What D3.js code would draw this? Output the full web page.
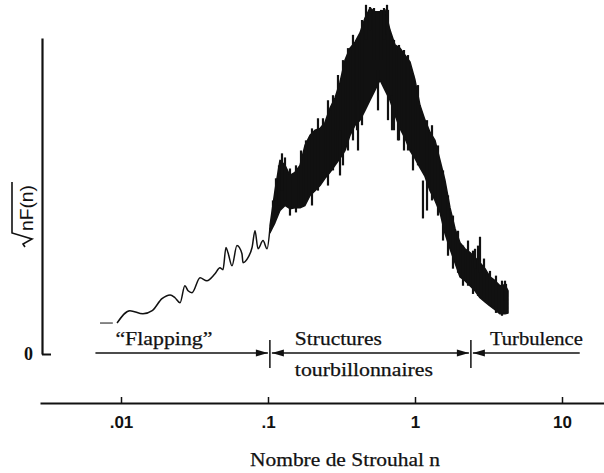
<!DOCTYPE html>
<html>
<head>
<meta charset="utf-8">
<script src="https://cdn.jsdelivr.net/npm/d3@7"></script>
<style>
  body { margin: 0; background: #fff; }
  svg { display: block; }
</style>
</head>
<body>
<div id="chart"></div>
<script>
// x axis ticks
const tickValues = [0.01, 0.1, 1, 10];
const tickLabels = [".01", ".1", "1", "10"];

// low frequency part of the spectrum (thin trace)
const lowN = [0.0094, 0.0115, 0.0141, 0.0163, 0.019, 0.0216, 0.0233, 0.0252, 0.0272, 0.0286,
  0.0304, 0.0345, 0.0384, 0.0436, 0.0471, 0.0494, 0.0518, 0.0534, 0.0569, 0.0615,
  0.0665, 0.0676, 0.0731, 0.0779, 0.0816, 0.0855, 0.0925, 0.0985, 0.1032];
const lowAmp = [9.8, 13.7, 12.7, 13.7, 17.5, 18.7, 17.8, 16.2, 21.6, 20.0,
  19.4, 24.1, 23.2, 25.4, 27.3, 26.7, 33.7, 32.1, 27.9, 34.3,
  31.7, 28.9, 30.5, 33.7, 39.0, 33.3, 35.9, 33.3, 40.0];

// short dash left of the trace
const dashN = [0.0072, 0.0088];
const dashAmp = [9.8, 9.8];

// noisy part of the spectrum: upper and lower envelope
const bandN = [0.1032, 0.1116, 0.1206, 0.1305, 0.1411, 0.1527, 0.1651, 0.1785, 0.1931, 0.2088,
  0.2258, 0.2442, 0.2641, 0.2856, 0.3089, 0.3341, 0.3613, 0.3907, 0.4225, 0.457,
  0.4942, 0.5345, 0.578, 0.6251, 0.6761, 0.7312, 0.7907, 0.8551, 0.9248, 1.0,
  1.081, 1.17, 1.265, 1.368, 1.479, 1.6, 1.73, 1.871, 2.024, 2.188,
  2.367, 2.56, 2.768, 2.994, 3.237, 3.501, 3.786, 4.095, 4.294];
const bandTop = [40.6, 51.7, 61.3, 59.7, 56.5, 57.5, 59.7, 66.0, 69.2, 70.8,
  71.4, 73.3, 77.8, 81.0, 86.0, 93.0, 96.8, 98.7, 101.6, 106.3,
  109.5, 108.3, 108.3, 108.9, 102.5, 97.8, 96.8, 94.6, 92.4, 86.7,
  78.7, 74.0, 70.2, 67.6, 61.3, 54.9, 46.3, 39.7, 35.2, 33.3,
  32.1, 30.5, 28.9, 27.0, 24.4, 23.2, 21.6, 21.9, 20.0];
const bandBottom = [38.4, 41.6, 45.4, 47.0, 46.0, 46.3, 46.3, 47.0, 50.2, 51.7,
  53.3, 55.6, 57.5, 59.7, 61.9, 64.4, 69.2, 72.4, 74.0, 77.1,
  80.3, 83.5, 86.7, 83.5, 80.3, 75.6, 71.4, 68.3, 64.4, 61.9,
  59.0, 56.2, 51.7, 48.6, 44.8, 38.1, 33.3, 28.9, 24.4, 23.2,
  21.6, 20.0, 17.8, 16.5, 15.2, 14.0, 12.7, 12.7, 13.0];

// vertical noise strands (frequency, top, bottom)
const spikeN = [0.1081, 0.1133, 0.1188, 0.1245, 0.1305, 0.1411, 0.155, 0.1677, 0.1813, 0.1992,
  0.2188, 0.2366, 0.2559, 0.2768, 0.2993, 0.3089, 0.3237, 0.3501, 0.3786, 0.4031,
  0.4096, 0.436, 0.4642, 0.4942, 0.5262, 0.5602, 0.5872, 0.6152, 0.6451, 0.6551,
  0.6976, 0.7197, 0.766, 0.7783, 0.8417, 0.896, 0.9691, 1.048, 1.133, 1.207,
  1.305, 1.434, 1.551, 1.677, 1.813, 1.962, 2.121, 2.294, 2.481, 2.56,
  2.683, 2.768, 2.947, 3.237, 3.556, 3.906, 4.095, 4.159];
const spikeTop = [48.6, 55.6, 59.7, 63.5, 62.2, 58.7, 59.7, 64.4, 67.6, 71.4,
  74.6, 74.6, 80.3, 81.9, 88.3, 70.8, 93.0, 96.8, 101.0, 99.4,
  80.3, 105.7, 110.5, 109.8, 109.5, 89.8, 108.9, 109.5, 110.5, 108.9,
  81.9, 99.4, 77.1, 97.8, 96.2, 94.6, 88.3, 85.1, 54.9, 74.0,
  72.4, 66.0, 58.1, 50.2, 43.8, 39.0, 34.3, 35.9, 32.7, 33.3,
  34.3, 37.1, 30.2, 26.3, 24.8, 23.2, 23.2, 22.2];
const spikeBottom = [40.6, 48.6, 47.0, 51.7, 48.6, 43.8, 44.8, 47.0, 48.6, 47.0,
  51.7, 57.5, 53.3, 58.1, 61.3, 56.5, 59.7, 64.4, 67.6, 70.8,
  64.4, 72.4, 99.4, 102.5, 93.0, 77.1, 93.0, 99.4, 101.0, 74.0,
  70.8, 70.8, 67.6, 67.6, 64.4, 64.4, 58.1, 59.7, 42.9, 45.4,
  48.6, 43.8, 35.9, 31.1, 27.0, 25.7, 21.6, 21.6, 19.0, 27.0,
  18.4, 25.7, 16.8, 15.2, 13.0, 12.1, 16.8, 13.7];

// regions marked along the zero line
const regionBounds = [0.0067, 0.103, 2.4, 13.2];
const regionLabels = [["\u201CFlapping\u201D"], ["Structures", "tourbillonnaires"], ["Turbulence"]];

const chartWidth = 604;
const chartHeight = 473;
const ink = "#111";
const serif = "'Liberation Serif', 'Times New Roman', serif";
const sans = "'Liberation Sans', Arial, sans-serif";

const svg = d3
  .select("#chart")
  .append("svg")
  .attr("width", chartWidth)
  .attr("height", chartHeight);

// scales
const x = d3.scaleLog().domain([0.01, 10]).range([121, 562]);
const y = d3.scaleLinear().domain([0, 100]).range([354, 38]);
const xAxisScale = x.copy().domain([x.invert(40), x.invert(604)]).range([40, 604]);

// x axis
const xAxis = svg
  .append("g")
  .attr("transform", "translate(0, 403)")
  .call(
    d3.axisBottom(xAxisScale)
      .tickValues(tickValues)
      .tickFormat((d, i) => tickLabels[i])
      .tickSizeInner(-6)
      .tickSizeOuter(0)
      .tickPadding(13)
  );
xAxis.select(".domain").attr("stroke", ink).attr("stroke-width", 2);
xAxis.selectAll(".tick line").attr("stroke", ink).attr("stroke-width", 1.5);
xAxis
  .selectAll(".tick text")
  .attr("fill", ink)
  .attr("font-family", sans)
  .attr("font-size", 17)
  .attr("font-weight", "bold")
  .style("font-size", "17px");

// y axis
const yAxis = svg
  .append("g")
  .attr("transform", "translate(42, 0)")
  .call(
    d3.axisLeft(y)
      .tickValues([0])
      .tickSizeInner(-9)
      .tickSizeOuter(0)
      .tickPadding(9)
  );
yAxis.select(".domain").attr("stroke", ink).attr("stroke-width", 2.2);
yAxis.selectAll(".tick line").attr("stroke", ink).attr("stroke-width", 2);
yAxis
  .selectAll(".tick text")
  .attr("fill", ink)
  .attr("font-family", serif)
  .attr("font-weight", "bold")
  .style("font-size", "18px");

// x axis title
svg
  .append("text")
  .attr("x", 250)
  .attr("y", 466)
  .attr("textLength", 190)
  .attr("lengthAdjust", "spacingAndGlyphs")
  .style("font-family", serif)
  .style("font-size", "19px")
  .attr("fill", ink)
  .attr("stroke", ink)
  .attr("stroke-width", 0.25)
  .text("Nombre de Strouhal n");

// y axis title: sqrt(nF(n)) written upward
const yTitle = svg.append("g").attr("transform", "translate(33, 248) rotate(-90)");
yTitle
  .append("path")
  .attr("d", "M1,-8 L4,-10 L9,-1 L15,-21 L66,-21")
  .attr("fill", "none")
  .attr("stroke", ink)
  .attr("stroke-width", 1.6);
yTitle
  .append("text")
  .attr("x", 17)
  .attr("y", 0)
  .attr("textLength", 46)
  .attr("lengthAdjust", "spacingAndGlyphs")
  .style("font-family", sans)
  .style("font-size", "18px")
  .attr("fill", ink)
  .text("nF(n)");

// spectrum: thin low frequency trace
const lowData = lowN.map((n, i) => ({ n: n, v: lowAmp[i] }));
const dashData = dashN.map((n, i) => ({ n: n, v: dashAmp[i] }));
const line = d3
  .line()
  .x((d) => x(d.n))
  .y((d) => y(d.v));

svg
  .append("path")
  .datum(dashData)
  .attr("d", line)
  .attr("fill", "none")
  .attr("stroke", ink)
  .attr("stroke-width", 1);

svg
  .append("path")
  .datum(lowData)
  .attr("d", line.curve(d3.curveMonotoneX))
  .attr("fill", "none")
  .attr("stroke", ink)
  .attr("stroke-width", 1.5)
  .attr("stroke-linejoin", "round");

// spectrum: noisy band
const bandData = bandN.map((n, i) => ({ n: n, top: bandTop[i], bottom: bandBottom[i] }));
const area = d3
  .area()
  .x((d) => x(d.n))
  .y0((d) => y(d.bottom))
  .y1((d) => y(d.top));

svg
  .append("path")
  .datum(bandData)
  .attr("d", area)
  .attr("fill", ink)
  .attr("stroke", ink)
  .attr("stroke-width", 1.5)
  .attr("stroke-linejoin", "round");

// noise strands
svg
  .selectAll(".spike")
  .data(spikeN.map((n, i) => ({ n: n, top: spikeTop[i], bottom: spikeBottom[i] })))
  .enter()
  .append("line")
  .attr("class", "spike")
  .attr("x1", (d) => x(d.n))
  .attr("x2", (d) => x(d.n))
  .attr("y1", (d) => y(d.top))
  .attr("y2", (d) => y(d.bottom))
  .attr("stroke", ink)
  .attr("stroke-width", 2.2);

// regions along the zero line
const yArrow = y(0) - 1;
const bx = regionBounds.map((b) => x(b));
const arrowHead = (tip, dir) =>
  `M${tip},${yArrow} L${tip - dir * 12},${yArrow - 3.5} L${tip - dir * 12},${yArrow + 3.5} Z`;

const arrows = svg.append("g").attr("class", "regions");
for (let i = 0; i < regionBounds.length - 1; i++) {
  const x0 = i === 0 ? bx[i] : bx[i] + 2;
  const x1 = i === regionBounds.length - 2 ? bx[i + 1] : bx[i + 1] - 2;
  arrows
    .append("line")
    .attr("x1", x0)
    .attr("x2", x1)
    .attr("y1", yArrow)
    .attr("y2", yArrow)
    .attr("stroke", ink)
    .attr("stroke-width", 1.5);
  if (i > 0) arrows.append("path").attr("d", arrowHead(x0, -1)).attr("fill", ink);
  if (i < regionBounds.length - 2) arrows.append("path").attr("d", arrowHead(x1, 1)).attr("fill", ink);
}

// dividers between regions
arrows
  .selectAll(".divider")
  .data(regionBounds.slice(1, -1))
  .enter()
  .append("line")
  .attr("class", "divider")
  .attr("x1", (d) => x(d))
  .attr("x2", (d) => x(d))
  .attr("y1", yArrow - 13)
  .attr("y2", yArrow + 15)
  .attr("stroke", ink)
  .attr("stroke-width", 1.5);

// region labels
const labelOffsets = [20, 25, 19];
const labelWidths = [[97], [87, 138], [93]];
const lineBaselines = [345, 376];
regionLabels.forEach((lines, i) => {
  lines.forEach((txt, j) => {
    arrows
      .append("text")
      .attr("x", bx[i] + labelOffsets[i])
      .attr("y", lineBaselines[j])
      .attr("textLength", labelWidths[i][j])
      .attr("lengthAdjust", "spacingAndGlyphs")
      .style("font-family", serif)
      .style("font-size", "19px")
      .attr("fill", ink)
      .attr("stroke", ink)
      .attr("stroke-width", 0.25)
      .text(txt);
  });
});
</script>
</body>
</html>
